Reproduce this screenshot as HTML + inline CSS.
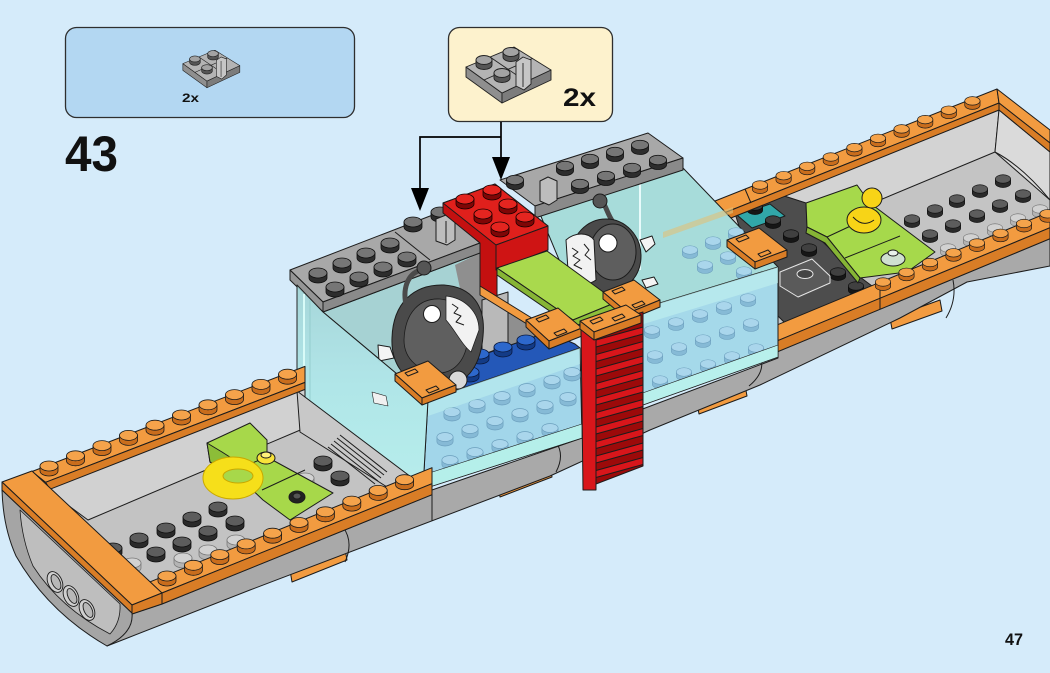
<!DOCTYPE html>
<html><head><meta charset="utf-8"><style>
html,body{margin:0;padding:0;background:#d5ebfa}
svg{display:block}
text{font-family:"Liberation Sans",Arial,sans-serif;font-weight:bold;fill:#111}
.k{stroke:#1c1c1c;stroke-width:1;stroke-linejoin:round}
.ot{fill:#f29b40}.of{fill:#d97d26}
.ln{fill:none;stroke:#1c1c1c;stroke-width:1}
</style></head><body>
<svg width="1050" height="673" viewBox="0 0 1050 673" xmlns="http://www.w3.org/2000/svg">
<defs>
<linearGradient id="gp" x1="0" y1="0" x2="0" y2="1"><stop offset="0" stop-color="#a4d6d8"/><stop offset=".5" stop-color="#afe6e8"/><stop offset="1" stop-color="#b6eeec"/></linearGradient>
<g id="so" stroke="#1a1a1a" stroke-width=".8"><path d="M-9,0V5A9,5 0 0 0 9,5V0Z" fill="#c96d1c"/><ellipse rx="9" ry="5" fill="#f5a34b"/></g>
<g id="sd" stroke="#111" stroke-width=".8"><path d="M-9,0V5A9,5 0 0 0 9,5V0Z" fill="#2a2a2a"/><ellipse rx="9" ry="5" fill="#5d5d5d"/></g>
<g id="sk" stroke="#0c0c0c" stroke-width=".8"><path d="M-9,0V5A9,5 0 0 0 9,5V0Z" fill="#161616"/><ellipse rx="9" ry="5" fill="#404040"/></g>
<g id="sg" stroke="#111" stroke-width=".8"><path d="M-9,0V5A9,5 0 0 0 9,5V0Z" fill="#2d2d2d"/><ellipse rx="9" ry="5" fill="#767676"/></g>
<g id="sl" stroke="#7a7a7a" stroke-width=".8"><path d="M-9,0V5A9,5 0 0 0 9,5V0Z" fill="#b4b4b4"/><ellipse rx="9" ry="5" fill="#d2d2d2"/></g>
<g id="sr" stroke="#1a0000" stroke-width=".8"><path d="M-9,0V5A9,5 0 0 0 9,5V0Z" fill="#7f0606"/><ellipse rx="9" ry="5" fill="#e42520"/></g>
<g id="sb" stroke="#0a1a40" stroke-width=".8"><path d="M-9,0V5A9,5 0 0 0 9,5V0Z" fill="#133b86"/><ellipse rx="9" ry="5" fill="#2d68cc"/></g>
<g id="sc" stroke="#6c9fbd" stroke-width=".7"><path d="M-9,0V5A9,5 0 0 0 9,5V0Z" fill="#86bad6"/><ellipse rx="9" ry="5" fill="#aad6ec"/></g>
<g id="pc" stroke="#222" stroke-width=".9" stroke-linejoin="round">
 <polygon points="466,67 502,93 502,103 466,77" fill="#8f8f8f"/>
 <polygon points="502,93 551,70 551,80 502,103" fill="#7c7c7c"/>
 <polygon points="466,67 514,47 551,70 502,93" fill="#b4b4b4"/>
 <line x1="490" y1="57" x2="526" y2="81.5"/>
 <line x1="532.5" y1="58.5" x2="484" y2="80"/>
 <path d="M476,60V65A8,4.5 0 0 0 492,65V60Z" fill="#555"/><ellipse cx="484" cy="60" rx="8" ry="4.5" fill="#a3a3a3"/>
 <path d="M494,73V78A8,4.5 0 0 0 510,78V73Z" fill="#555"/><ellipse cx="502" cy="73" rx="8" ry="4.5" fill="#a3a3a3"/>
 <path d="M503,52V57A8,4.5 0 0 0 519,57V52Z" fill="#555"/><ellipse cx="511" cy="52" rx="8" ry="4.5" fill="#a3a3a3"/>
 <polygon points="516,62 523,57 531,60 531,84 524,90 516,86" fill="#c6c6c6"/>
 <line x1="523" y1="63" x2="523" y2="87"/>
</g>
</defs>

<rect width="1050" height="673" fill="#d5ebfa"/>

<!-- callouts -->
<rect x="65.5" y="27.5" width="289" height="90" rx="11" fill="#b3d7f2" stroke="#2e2e2e" stroke-width="1.3"/>
<use href="#pc" transform="translate(211,67) scale(.67) translate(-508,-72)"/>
<text x="182" y="102" font-size="12" textLength="17" lengthAdjust="spacingAndGlyphs">2x</text>
<rect x="448.5" y="27.5" width="164" height="94" rx="11" fill="#fdf2cd" stroke="#2e2e2e" stroke-width="1.3"/>
<use href="#pc"/>
<text x="563" y="106" font-size="25" textLength="33" lengthAdjust="spacingAndGlyphs">2x</text>
<text x="65" y="171" font-size="50" textLength="53" lengthAdjust="spacingAndGlyphs">43</text>
<text x="1005" y="645" font-size="17" textLength="18" lengthAdjust="spacingAndGlyphs">47</text>

<g class="k">
<!-- tabs under hull -->
<polygon class="ot" points="290,570 345,549 347,560 292,582"/>
<polygon class="ot" points="498,486 550,466 552,477 500,497"/>
<polygon class="ot" points="697,403 745,385 747,396 699,414"/>
<polygon class="ot" points="890,318 940,300 942,311 892,329"/>

<!-- hull band -->
<polygon fill="#a9a9a9" points="132,614 162,604 432,494.7 432,490 582,438 640,410 778,358 778,351.6 1050,238.7 1050,266 967,282 900,318 760,385 650,430 550,476 250,590 107,646"/>
<path class="ln" d="M343,527 Q354,542 345,562 M556,442 Q565,455 556,472 M761,358 Q765,373 749,386 M953,280 Q957,300 946,318 M432,490 V521"/>
<!-- left end face -->
<path d="M2,490 L132,613 Q134,633 107,646 Q48,612 16,556 Q3,527 2,490 Z" fill="#a5a5a5"/>
<path d="M20,510 L120,604 Q121,622 110,634 Q60,608 33,566 Q22,540 20,510 Z" fill="#bebebe" stroke-width=".8"/>
<g fill="#cfcfcf" stroke-width=".9">
<ellipse cx="55" cy="582" rx="7" ry="11" transform="rotate(-25 55 582)"/>
<ellipse cx="71" cy="596" rx="7" ry="11" transform="rotate(-25 71 596)"/>
<ellipse cx="87" cy="610" rx="7" ry="11" transform="rotate(-25 87 610)"/>
<ellipse cx="56" cy="582" rx="4" ry="8" transform="rotate(-25 56 582)" fill="#b8b8b8"/>
<ellipse cx="72" cy="596" rx="4" ry="8" transform="rotate(-25 72 596)" fill="#b8b8b8"/>
<ellipse cx="88" cy="610" rx="4" ry="8" transform="rotate(-25 88 610)" fill="#b8b8b8"/>
</g>

<!-- ===== RIGHT SECTION ===== -->
<polygon fill="#c4c4c4" points="700,215 997,103 1050,145 1050,215 780,330 760,300"/>
<polygon fill="#d3d3d3" points="719,222 999,110 995,152 760,250"/>
<polygon fill="#dadada" points="999,110 1050,152 1050,200 995,152"/>
<path class="ln" d="M995,152 Q1022,166 1050,200"/>
<use href="#sd" transform="translate(912,219) scale(.85)"/><use href="#sd" transform="translate(935,209) scale(.85)"/><use href="#sd" transform="translate(957,199) scale(.85)"/><use href="#sd" transform="translate(980,189) scale(.85)"/><use href="#sd" transform="translate(1003,179) scale(.85)"/>
<use href="#sd" transform="translate(930,234) scale(.85)"/><use href="#sd" transform="translate(953,224) scale(.85)"/><use href="#sd" transform="translate(977,214) scale(.85)"/><use href="#sd" transform="translate(1000,204) scale(.85)"/><use href="#sd" transform="translate(1023,194) scale(.85)"/>
<use href="#sl" transform="translate(948,248) scale(.85)"/><use href="#sl" transform="translate(971,238) scale(.85)"/><use href="#sl" transform="translate(995,228) scale(.85)"/><use href="#sl" transform="translate(1018,218) scale(.85)"/><use href="#sl" transform="translate(1040,209) scale(.85)"/>
<!-- dark plates -->
<polygon fill="#4d4d4d" points="733,207 772,192 806,203 807,227 860,277 880,292 790,328 762,300"/>
<polygon fill="#31a7a9" points="737,215 770,204 785,216 752,228"/>
<use href="#sk" transform="translate(755,206) scale(.85)"/><use href="#sk" transform="translate(773,220) scale(.85)"/><use href="#sk" transform="translate(791,234) scale(.85)"/><use href="#sk" transform="translate(809,248) scale(.85)"/><use href="#sk" transform="translate(838,272) scale(.85)"/><use href="#sk" transform="translate(856,286) scale(.85)"/>
<polygon fill="#5a5a5a" stroke="#e6e6e6" points="780,272 812,259 830,276 830,283 798,297 780,286"/>
<ellipse cx="805" cy="274" rx="8" ry="4.5" fill="#444" stroke="#e6e6e6"/>
<!-- lime & duck -->
<polygon fill="#a6d94b" points="806,203 857,185 870,203 935,252 907,272 860,278 827,237 807,227"/>
<polygon fill="#86b535" points="807,227 827,237 860,278 858,283 825,243 806,233"/>
<path class="ln" d="M827,237 L872,216 M845,258 L900,236"/>
<ellipse cx="864" cy="220" rx="17" ry="13" fill="#f7d417"/>
<circle cx="872" cy="198" r="10" fill="#f7d417"/>
<path class="ln" d="M853,217 Q863,228 874,220"/>
<ellipse cx="893" cy="259" rx="12" ry="7" fill="#cfe0d0"/>
<ellipse cx="893" cy="253" rx="5" ry="3" fill="#e9f1ea"/>
<!-- back rim -->
<polygon class="ot" points="715,201 997,89 999,103 719,215"/>
<polygon class="of" points="719,215 999,103 999,110 721,222"/>
<path class="ln" d="M745,189 L751,203"/>
<polygon class="ot" points="997,89 1050,130 1050,143 999,103"/>
<polygon class="of" points="999,103 1050,143 1050,152 999,110"/>
<use href="#so" transform="translate(760,185) scale(.85)"/><use href="#so" transform="translate(783.6,175.7) scale(.85)"/><use href="#so" transform="translate(807.2,166.3) scale(.85)"/><use href="#so" transform="translate(830.8,157) scale(.85)"/><use href="#so" transform="translate(854.4,147.6) scale(.85)"/><use href="#so" transform="translate(878,138.3) scale(.85)"/><use href="#so" transform="translate(901.6,128.9) scale(.85)"/><use href="#so" transform="translate(925.2,119.6) scale(.85)"/><use href="#so" transform="translate(948.8,110.2) scale(.85)"/><use href="#so" transform="translate(972.4,100.9) scale(.85)"/>
<!-- front rim -->
<polygon class="ot" points="778,324.6 1050,211.7 1050,227.7 778,340.6"/>
<polygon class="of" points="778,340.6 1050,227.7 1050,238.7 778,351.6"/>
<path class="ln" d="M880,282 L880,309"/>
<use href="#so" transform="translate(883,282) scale(.85)"/><use href="#so" transform="translate(906.5,272.3) scale(.85)"/><use href="#so" transform="translate(930,262.5) scale(.85)"/><use href="#so" transform="translate(953.5,252.8) scale(.85)"/><use href="#so" transform="translate(977,243) scale(.85)"/><use href="#so" transform="translate(1000.5,233.3) scale(.85)"/><use href="#so" transform="translate(1024,223.5) scale(.85)"/><use href="#so" transform="translate(1047.5,213.8) scale(.85)"/>

<!-- ===== GLASS SECTION ===== -->
<!-- right box interior -->
<polygon fill="#a7dcda" points="540,214 683,168 778,267 640,312 600,300 560,262"/>
<polygon fill="#e0c27a" opacity=".6" stroke="none" points="663,232 733,207 733,213 663,238"/>
<line x1="640" y1="180" x2="640" y2="270" stroke="#e8fbfb" stroke-width="2"/>
<use href="#sc" transform="translate(690,250) scale(.85)"/><use href="#sc" transform="translate(713,241) scale(.85)"/><use href="#sc" transform="translate(736,232) scale(.85)"/><use href="#sc" transform="translate(705,265) scale(.85)"/><use href="#sc" transform="translate(728,256) scale(.85)"/><use href="#sc" transform="translate(751,247) scale(.85)"/><use href="#sc" transform="translate(744,271) scale(.85)"/>
<!-- right top plate -->
<polygon fill="#a8a8a8" points="500,180 648,133 683,158 535,206"/>
<polygon fill="#8a8a8a" points="535,206 683,158 683,170 535,218"/>
<use href="#sg" transform="translate(515,180) scale(.95)"/><use href="#sg" transform="translate(565,166) scale(.95)"/><use href="#sg" transform="translate(590,159) scale(.95)"/><use href="#sg" transform="translate(615,152) scale(.95)"/><use href="#sg" transform="translate(640,145) scale(.95)"/>
<use href="#sg" transform="translate(580,184) scale(.95)"/><use href="#sg" transform="translate(606,176) scale(.95)"/><use href="#sg" transform="translate(632,168) scale(.95)"/><use href="#sg" transform="translate(658,160) scale(.95)"/>
<polygon fill="#bdbdbd" points="540,181 548,177 557,181 557,200 549,205 540,201"/>
<!-- right fish -->
<path d="M613,222 C606,212 606,203 600,201" fill="none" stroke="#4a4a4a" stroke-width="5"/>
<circle cx="600" cy="201" r="7" fill="#555"/>
<path d="M640,240 l12,-4 l3,8 l-9,8 z M642,280 l12,-3 l4,7 l-12,4 z" fill="#f4f4f4"/>
<ellipse cx="606" cy="256" rx="35" ry="37" fill="#4a4a4a"/>
<ellipse cx="613" cy="252" rx="23" ry="28" fill="#5e5e5e"/>
<path d="M566,240 C575,232 588,232 594,240 L596,280 C585,288 572,282 568,270 Z" fill="#f2f2f2"/>
<path class="ln" d="M572,248 l6,4 l-5,4 l7,4 l-6,5 l8,4 M584,244 l5,6 l-4,5 l6,5" stroke-width=".8"/>
<circle cx="608" cy="243" r="9" fill="#fff"/>
<!-- right front glass -->
<polygon fill="#a5d9ea" points="637,310 778,267 778,357 637,407"/>
<use href="#sc" transform="translate(652,330) scale(.85)"/><use href="#sc" transform="translate(676,322) scale(.85)"/><use href="#sc" transform="translate(700,314) scale(.85)"/><use href="#sc" transform="translate(724,306) scale(.85)"/><use href="#sc" transform="translate(748,298) scale(.85)"/>
<use href="#sc" transform="translate(655,355) scale(.85)"/><use href="#sc" transform="translate(679,347) scale(.85)"/><use href="#sc" transform="translate(703,339) scale(.85)"/><use href="#sc" transform="translate(727,331) scale(.85)"/><use href="#sc" transform="translate(751,323) scale(.85)"/>
<use href="#sc" transform="translate(660,380) scale(.85)"/><use href="#sc" transform="translate(684,372) scale(.85)"/><use href="#sc" transform="translate(708,364) scale(.85)"/><use href="#sc" transform="translate(732,356) scale(.85)"/><use href="#sc" transform="translate(756,348) scale(.85)"/>
<polygon fill="#c2f2ef" opacity=".6" stroke="none" points="637,310 778,267 778,283 637,326"/>
<polygon fill="#b8f0ec" points="637,395 778,345 778,357 637,407" stroke-width=".6"/>
<!-- left box interior -->
<polygon fill="#a6d2d3" points="323,312 480,253 480,292 530,322 580,348 428,400"/>
<polygon fill="#8f8f8f" stroke="none" points="455,265 480,253 480,292 530,322 580,348 505,374 470,335"/>
<polygon fill="#b9b9b9" points="482,300 508,292 508,345 482,355"/>
<polygon fill="#2458b8" points="462,362 548,332 575,344 580,348 458,390 452,375"/>
<use href="#sb" x="480" y="354"/><use href="#sb" x="503" y="347"/><use href="#sb" x="526" y="340"/><use href="#sb" x="470" y="372"/>
<!-- left top plate -->
<polygon fill="#a8a8a8" points="290,270 443,211 480,243 323,302"/>
<polygon fill="#8a8a8a" points="323,302 480,243 480,253 323,312"/>
<polygon fill="#959595" points="290,270 323,302 323,312 290,280"/>
<path class="ln" d="M395,232 L430,260"/>
<use href="#sg" x="318" y="273"/><use href="#sg" x="342" y="263"/><use href="#sg" x="366" y="253"/><use href="#sg" x="390" y="243"/>
<use href="#sg" x="335" y="287"/><use href="#sg" x="359" y="277"/><use href="#sg" x="383" y="267"/><use href="#sg" x="407" y="257"/>
<use href="#sg" x="413" y="222"/><use href="#sg" x="440" y="212"/>
<polygon fill="#bdbdbd" points="436,219 446,215 455,219 455,240 447,245 436,241"/>
<line x1="446" y1="221" x2="446" y2="243"/>
<!-- red -->
<polygon fill="#c41010" points="443,203 443,213 480,243 480,290 497,300 497,270 548,250 548,226 495,184"/>
<polygon fill="#e0201c" points="443,203 495,184 548,226 496,245"/>
<polygon fill="#cf1414" points="496,245 548,226 548,250 496,270"/>
<use href="#sr" x="465" y="199"/><use href="#sr" x="492" y="190"/><use href="#sr" x="483" y="214"/><use href="#sr" x="508" y="204"/><use href="#sr" x="500" y="227"/><use href="#sr" x="525" y="217"/>
<!-- orange band & lime -->
<polygon class="ot" points="480,286 535,320 535,329 480,295"/>
<polygon fill="#a9d94d" points="497,268 547,251 617,302 573,320"/>
<polygon fill="#86b535" points="497,268 573,320 573,327 497,275"/>
<polygon fill="#8dbf3a" points="573,320 617,302 617,309 573,327"/>
<!-- left fish -->
<path d="M378,345 l12,2 l4,11 l-15,3 z" fill="#f4f4f4"/>
<path d="M392,338 C393,303 414,284 444,285 C472,287 486,306 483,336 C481,362 470,380 452,384 L420,384 C401,378 391,360 392,338 Z" fill="#4a4a4a"/>
<path d="M404,340 C405,312 420,298 440,299 C460,301 470,316 468,338 C466,360 455,372 440,373 C420,372 404,360 404,340Z" fill="#5f5f5f" stroke-width=".8"/>
<path d="M446,296 C465,298 479,312 479,330 L471,352 C462,345 455,330 446,320 Z" fill="#f2f2f2" stroke-width=".7"/>
<path class="ln" d="M452,304 l6,4 l-4,5 l7,3 l-5,6 l8,3" stroke-width=".8"/>
<circle cx="432" cy="314" r="8.5" fill="#fff"/>
<path d="M422,270 C410,272 402,285 406,305" fill="none" stroke="#4a4a4a" stroke-width="5"/>
<circle cx="424" cy="268" r="7" fill="#555"/>
<circle cx="458" cy="380" r="9" fill="#d9d9d9"/>
<!-- left front glass -->
<polygon fill="#a2d6ea" points="428,400 580,348 582,438 423,489"/>
<use href="#sc" transform="translate(452,412) scale(.9)"/><use href="#sc" transform="translate(477,404) scale(.9)"/><use href="#sc" transform="translate(502,396) scale(.9)"/><use href="#sc" transform="translate(527,388) scale(.9)"/><use href="#sc" transform="translate(552,380) scale(.9)"/><use href="#sc" transform="translate(572,372) scale(.9)"/>
<use href="#sc" transform="translate(445,437) scale(.9)"/><use href="#sc" transform="translate(470,429) scale(.9)"/><use href="#sc" transform="translate(495,421) scale(.9)"/><use href="#sc" transform="translate(520,413) scale(.9)"/><use href="#sc" transform="translate(545,405) scale(.9)"/><use href="#sc" transform="translate(568,397) scale(.9)"/>
<use href="#sc" transform="translate(450,460) scale(.9)"/><use href="#sc" transform="translate(475,452) scale(.9)"/><use href="#sc" transform="translate(500,444) scale(.9)"/><use href="#sc" transform="translate(525,436) scale(.9)"/><use href="#sc" transform="translate(550,428) scale(.9)"/>
<polygon fill="#c0f2ef" opacity=".55" stroke="none" points="428,400 580,348 580,364 428,416"/>
<polygon fill="#b5efea" points="423,475 582,424 582,438 423,489" stroke-width=".6"/>
<!-- left panel glass -->
<polygon fill="url(#gp)" opacity=".95" points="297,285 323,312 428,400 423,489 297,393"/>
<path d="M372,392 l14,4 l2,10 l-14,-3 z" fill="#f0f0f0" stroke-width=".6"/>
<line x1="304" y1="294" x2="304" y2="398" stroke="#d8fbf8" stroke-width="2"/>
<line x1="310" y1="300" x2="310" y2="402" stroke="#8fc9c9" stroke-width=".8"/>
<!-- clips -->
<polygon class="ot" points="395,374 428,361 456,385 422,398"/><polygon class="of" points="422,398 456,385 456,392 422,405"/><polygon class="of" points="395,374 422,398 422,405 395,381"/>
<path class="ln" d="M405,373 l10,-4 l3,3 l-10,4z M426,390 l10,-4 l3,3 l-10,4z" stroke-width=".7"/>
<polygon class="ot" points="526,320 558,308 582,328 549,341"/><polygon class="of" points="549,341 582,328 582,336 549,349"/><polygon class="of" points="526,320 549,341 549,349 526,327"/>
<path class="ln" d="M536,319 l10,-4 l3,3 l-10,4z M554,333 l10,-4 l3,3 l-10,4z" stroke-width=".7"/>
<polygon class="ot" points="603,292 634,280 660,300 628,313"/><polygon class="of" points="628,313 660,300 660,307 628,320"/><polygon class="of" points="603,292 628,313 628,320 603,299"/>
<path class="ln" d="M612,291 l10,-4 l3,3 l-10,4z M632,305 l10,-4 l3,3 l-10,4z" stroke-width=".7"/>
<polygon class="ot" points="727,240 759,228 787,250 755,262"/><polygon class="of" points="755,262 787,250 787,257 755,269"/><polygon class="of" points="727,240 755,262 755,269 727,247"/>
<path class="ln" d="M736,239 l10,-4 l3,3 l-10,4z M758,254 l10,-4 l3,3 l-10,4z" stroke-width=".7"/>
<!-- ladder -->
<polygon fill="#9c0a0a" points="596,326 643,312 643,466 596,484"/>
<g fill="#d8161b">
<polygon points="596,340 643,327 643,334 596,347"/>
<polygon points="596,354.5 643,341.5 643,348.5 596,361.5"/>
<polygon points="596,369 643,356 643,363 596,376"/>
<polygon points="596,383.5 643,370.5 643,377.5 596,390.5"/>
<polygon points="596,398 643,385 643,392 596,405"/>
<polygon points="596,412.5 643,399.5 643,406.5 596,419.5"/>
<polygon points="596,427 643,414 643,421 596,434"/>
<polygon points="596,441.5 643,428.5 643,435.5 596,448.5"/>
<polygon points="596,456 643,443 643,450 596,463"/>
<polygon points="596,470.5 643,457.5 643,464.5 596,477.5"/>
<polygon points="581,330 596,326 596,490 583,490"/>
</g>
<polygon class="ot" points="580,321 626,305 641,315 594,332"/><polygon class="of" points="594,332 641,315 641,323 594,340"/><polygon class="of" points="580,321 594,332 594,340 580,329"/>
<path class="ln" d="M590,321 l10,-4 l3,3 l-10,4z M612,318 l10,-4 l3,3 l-10,4z" stroke-width=".7"/>

<!-- ===== LEFT SECTION ===== -->
<polygon fill="#c3c3c3" points="40,480 305,385 297,393 425,490 148,583"/>
<polygon fill="#d1d1d1" points="46,489 305,389 305,428 88,520"/>
<polygon fill="#c8c8c8" points="297,391 415,480 395,492 300,432"/>
<path class="ln" stroke-width=".8" d="M328,447 L375,484 M331,444 L378,481 M334,441 L381,478 M337,438 L384,475 M340,435 L387,472"/>
<use href="#sd" x="113" y="548"/><use href="#sd" x="139" y="538"/><use href="#sd" x="166" y="528"/><use href="#sd" x="192" y="517"/><use href="#sd" x="218" y="507"/>
<use href="#sl" x="132" y="563"/><use href="#sd" x="156" y="552"/><use href="#sd" x="182" y="542"/><use href="#sd" x="208" y="531"/><use href="#sd" x="235" y="521"/>
<use href="#sl" x="183" y="558"/><use href="#sl" x="208" y="550"/><use href="#sl" x="236" y="540"/>
<use href="#sd" x="323" y="461"/><use href="#sd" x="340" y="476"/><use href="#sl" x="305" y="478"/>
<!-- lime + ring -->
<polygon fill="#a7d84a" points="207,443 250,423 267,440 267,457 333,493 290,520 263,500 240,478 210,462"/>
<polygon fill="#8cbd38" points="207,443 210,462 240,478 247,468 222,452"/>
<path class="ln" d="M267,457 L225,474 M305,470 L262,490"/>
<ellipse cx="297" cy="497" rx="8" ry="6" fill="#222"/><ellipse cx="297" cy="496" rx="4" ry="3" fill="#555"/>
<ellipse cx="233" cy="478" rx="30" ry="21" fill="#f6df1a" stroke="#c9a800"/>
<ellipse cx="238" cy="476" rx="15" ry="7" fill="#a7d84a" stroke="#c9a800"/>
<ellipse cx="266" cy="458" rx="9" ry="6" fill="#f7e23a"/><ellipse cx="266" cy="455" rx="5" ry="3" fill="#fff27a"/>
<!-- back rim -->
<polygon class="ot" points="32,471.5 305,366.4 305,382.4 45.6,482.3"/>
<polygon class="of" points="45.6,482.3 305,382.4 305,389.4 49.8,489.3"/>
<use href="#so" x="49" y="466"/><use href="#so" x="75.5" y="455.8"/><use href="#so" x="102" y="445.6"/><use href="#so" x="128.5" y="435.4"/><use href="#so" x="155" y="425.2"/><use href="#so" x="181.5" y="415"/><use href="#so" x="208" y="404.8"/><use href="#so" x="234.5" y="394.6"/><use href="#so" x="261" y="384.4"/><use href="#so" x="287.5" y="374.2"/>
<!-- front rim -->
<polygon class="ot" points="148,582.7 432,467.7 432,483.7 162,593"/>
<polygon class="of" points="162,593 432,483.7 432,494.7 162,604"/>
<use href="#so" x="167" y="576"/><use href="#so" x="193.4" y="565.3"/><use href="#so" x="219.8" y="554.6"/><use href="#so" x="246.2" y="543.9"/><use href="#so" x="272.6" y="533.2"/><use href="#so" x="299" y="522.5"/><use href="#so" x="325.4" y="511.8"/><use href="#so" x="351.8" y="501.1"/><use href="#so" x="378.2" y="490.4"/><use href="#so" x="404.6" y="479.7"/>
<!-- cap -->
<polygon class="ot" points="2,482 32,471 162,593 132,605"/>
<polygon class="of" points="2,482 132,605 132,613 2,490"/>
<polygon class="of" points="132,605 162,593 162,604 132,614"/>
</g>

<!-- arrows -->
<g stroke="#000" stroke-width="1.7" fill="none">
<path d="M501,122 V160 M501,137 H420 V190"/>
</g>
<polygon points="492,157 510,157 501,180" fill="#000"/>
<polygon points="411,188 429,188 420,211" fill="#000"/>
</svg>
</body></html>
